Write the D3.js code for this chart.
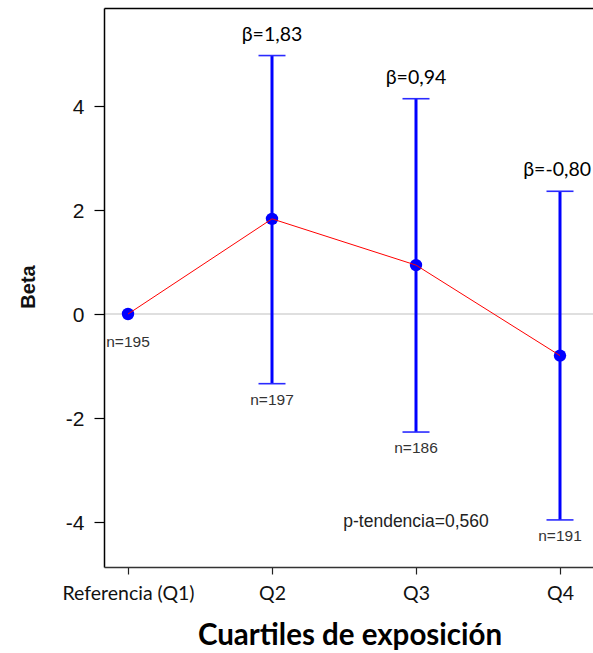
<!DOCTYPE html>
<html>
<head>
<meta charset="utf-8">
<script src="https://cdn.jsdelivr.net/npm/d3@7"></script>
<style>
  html, body { margin: 0; padding: 0; background: #fff; }
  svg { display: block; }
</style>
</head>
<body>
<svg id="chart" width="593" height="653"></svg>
<script>
// ---- data ----
const categories = ["Referencia (Q1)", "Q2", "Q3", "Q4"];
const betas = [0, 1.83, 0.94, -0.80];
const lowerCI = [null, -1.34, -2.27, -3.96];
const upperCI = [null, 4.97, 4.14, 2.36];
const betaLabels = [null, "β=1,83", "β=0,94", "β=-0,80"];
const nLabels = ["n=195", "n=197", "n=186", "n=191"];
const yTicks = [-4, -2, 0, 2, 4];
const pTrendText = "p-tendencia=0,560";
const pTrendCategory = "Q3";
const pTrendValue = -4.1;
const xTitle = "Cuartiles de exposición";
const yTitle = "Beta";

// ---- layout ----
const W = 593, H = 653;
const axisX = 104.5, topY = 8.5, bottomY = 567.5;
const svg = d3.select("#chart");

const x = d3.scalePoint().domain(categories).range([128, 560]);
const y = d3.scaleLinear().domain([-4.875, 5.875]).range([bottomY, topY]);

const blue = "#0000ff";
const arial = "Liberation Sans, Arial, sans-serif";
const calibri = "Lato, Carlito, Calibri, sans-serif";

// zero reference line
svg.append("line")
  .attr("x1", axisX).attr("x2", W)
  .attr("y1", y(0)).attr("y2", y(0))
  .attr("stroke", "#c0c0c0").attr("stroke-width", 1.2);

// top frame line
svg.append("line")
  .attr("x1", axisX).attr("x2", W)
  .attr("y1", topY).attr("y2", topY)
  .attr("stroke", "#000").attr("stroke-width", 1.5);

// y axis
const yAxis = svg.append("g")
  .attr("transform", `translate(${axisX},0)`)
  .call(d3.axisLeft(y).tickValues(yTicks).tickSize(10).tickPadding(10).tickFormat(d => String(d)));
yAxis.select(".domain").remove();
yAxis.append("line").attr("x1", 0).attr("x2", 0).attr("y1", topY).attr("y2", bottomY)
  .attr("stroke", "#000").attr("stroke-width", 1.5);
yAxis.selectAll(".tick line").attr("stroke", "#000").attr("stroke-width", 1.2);
yAxis.selectAll(".tick text")
  .attr("font-family", arial).attr("font-size", 21).attr("fill", "#111")
  .attr("dy", "0.36em");

// x axis
const xAxis = svg.append("g")
  .attr("transform", `translate(0,${bottomY})`)
  .call(d3.axisBottom(x).tickSize(7).tickPadding(12));
xAxis.select(".domain").remove();
xAxis.append("line").attr("x1", axisX).attr("x2", W).attr("y1", 0).attr("y2", 0)
  .attr("stroke", "#333").attr("stroke-width", 1.5);
xAxis.selectAll(".tick line").attr("stroke", "#222").attr("stroke-width", 1.2);
xAxis.selectAll(".tick text")
  .attr("font-family", calibri).attr("font-size", 19.5).attr("fill", "#111");

// axis titles
svg.append("text")
  .attr("transform", `translate(35,287) rotate(-90)`)
  .attr("text-anchor", "middle")
  .attr("font-family", arial).attr("font-weight", "bold").attr("font-size", 20)
  .attr("fill", "#111")
  .text(yTitle);

svg.append("text")
  .attr("x", 350).attr("y", 645)
  .attr("text-anchor", "middle")
  .attr("font-family", calibri).attr("font-weight", "bold").attr("font-size", 29.5)
  .attr("fill", "#000")
  .text(xTitle);

// data rows
const rows = categories.map((c, i) => ({
  cat: c, beta: betas[i], lo: lowerCI[i], hi: upperCI[i],
  bl: betaLabels[i], n: nLabels[i]
}));

// error bars
const eb = svg.append("g").selectAll("g").data(rows.filter(d => d.lo !== null)).join("g");
eb.append("line")
  .attr("x1", d => x(d.cat)).attr("x2", d => x(d.cat))
  .attr("y1", d => y(d.hi)).attr("y2", d => y(d.lo))
  .attr("stroke", blue).attr("stroke-width", 3);
eb.append("line")
  .attr("x1", d => x(d.cat) - 13.5).attr("x2", d => x(d.cat) + 13.5)
  .attr("y1", d => y(d.hi)).attr("y2", d => y(d.hi))
  .attr("stroke", "#2a2aff").attr("stroke-width", 1.6);
eb.append("line")
  .attr("x1", d => x(d.cat) - 13.5).attr("x2", d => x(d.cat) + 13.5)
  .attr("y1", d => y(d.lo)).attr("y2", d => y(d.lo))
  .attr("stroke", "#2a2aff").attr("stroke-width", 1.6);

// points
svg.append("g").selectAll("circle").data(rows).join("circle")
  .attr("cx", d => x(d.cat)).attr("cy", d => y(d.beta)).attr("r", 6.2)
  .attr("fill", blue);

// connecting line
svg.append("path")
  .datum(rows)
  .attr("d", d3.line().x(d => x(d.cat)).y(d => y(d.beta)))
  .attr("fill", "none").attr("stroke", "#ff0000").attr("stroke-width", 1);

// beta labels (kept inside the canvas)
svg.append("g").selectAll("text").data(rows.filter(d => d.bl)).join("text")
  .attr("x", d => x(d.cat)).attr("y", d => y(d.hi) - 15)
  .attr("text-anchor", "middle")
  .attr("font-family", calibri).attr("font-size", 19.5).attr("fill", "#000")
  .text(d => d.bl)
  .each(function () {
    const t = d3.select(this);
    const w = this.getComputedTextLength();
    const cx = +t.attr("x");
    if (cx + w / 2 > W - 2) t.attr("x", W - 2 - w / 2);
  });

// n labels
svg.append("g").selectAll("text").data(rows).join("text")
  .attr("x", d => x(d.cat))
  .attr("y", d => d.lo !== null ? y(d.lo) + 21 : y(d.beta) + 33)
  .attr("text-anchor", "middle")
  .attr("font-family", arial).attr("font-size", 15.5).attr("fill", "#333")
  .text(d => d.n);

// p-trend
svg.append("text")
  .attr("x", x(pTrendCategory)).attr("y", y(pTrendValue))
  .attr("text-anchor", "middle")
  .attr("font-family", arial).attr("font-size", 17.5).attr("fill", "#222")
  .text(pTrendText);
</script>
</body>
</html>
